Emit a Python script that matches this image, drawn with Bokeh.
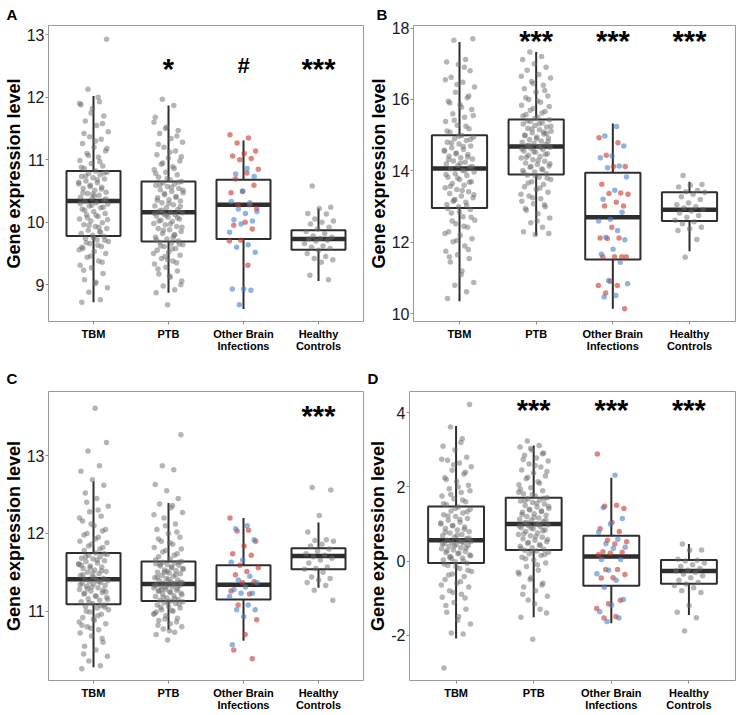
import numpy as np
from bokeh.plotting import figure
from bokeh.layouts import column, row
from bokeh.models import Range1d, FixedTicker
from bokeh.core.properties import value
from bokeh.embed import file_html
from bokeh.resources import INLINE

FONT = "Liberation Sans"

categories = ["TBM", "PTB", "Other Brain\nInfections", "Healthy\nControls"]

# ---------------- Panel A ----------------
a_whisk_lo = [8.72, 8.87, 8.61, 9.06]
a_q1 = [9.78, 9.69, 9.73, 9.56]
a_med = [10.34, 10.16, 10.28, 9.73]
a_q3 = [10.82, 10.65, 10.68, 9.87]
a_whisk_hi = [12.02, 11.87, 11.31, 10.22]
a_ticks = [9, 10, 11, 12, 13]
a_tbm = [8.72, 8.76, 8.88, 8.95, 9.04, 9.08, 9.18, 9.27, 9.31, 9.38, 9.44, 9.5, 9.53, 9.58, 9.61, 9.66, 9.69, 9.72, 9.74, 9.77,
         9.79, 9.82, 9.85, 9.87, 9.9, 9.93, 9.96, 9.99, 10.02, 10.05, 10.09, 10.12, 10.14, 10.17, 10.21, 10.23, 10.26, 10.29, 10.31, 10.33,
         10.35, 10.38, 10.4, 10.43, 10.46, 10.48, 10.51, 10.54, 10.56, 10.59, 10.61, 10.63, 10.66, 10.69, 10.71, 10.73, 10.76, 10.78, 10.8, 10.82,
         10.86, 10.9, 10.94, 10.99, 11.04, 11.1, 11.14, 11.2, 11.26, 11.33, 11.37, 11.45, 11.55, 11.62, 11.7, 11.82, 11.88, 11.93, 12.13, 12.93,
         9.02, 9.23, 9.36, 9.46, 9.56, 9.63, 9.67, 9.71, 9.75, 9.6, 9.84, 9.95, 10.04, 10.11, 10.19, 10.24, 10.27, 10.3, 9.92, 10.07,
         10.37, 10.42, 10.47, 10.53, 10.57, 10.64, 10.68, 10.74, 10.79, 10.45, 10.88, 10.97, 11.07, 11.18, 11.3, 11.42, 11.58, 11.75, 11.9, 12.0]
a_ptb = [8.68, 8.87, 8.92, 8.98, 9.06, 9.12, 9.17, 9.22, 9.28, 9.33, 9.38, 9.42, 9.47, 9.52, 9.55, 9.58, 9.61, 9.64, 9.66, 9.68,
         9.7, 9.73, 9.76, 9.79, 9.82, 9.85, 9.88, 9.9, 9.93, 9.96, 9.98, 10.01, 10.03, 10.05, 10.08, 10.1, 10.12, 10.13, 10.15, 10.16,
         10.18, 10.2, 10.23, 10.26, 10.28, 10.31, 10.34, 10.36, 10.39, 10.41, 10.44, 10.47, 10.49, 10.52, 10.54, 10.57, 10.59, 10.61, 10.63, 10.65,
         10.68, 10.72, 10.76, 10.8, 10.84, 10.89, 10.93, 10.98, 11.03, 11.08, 11.14, 11.2, 11.28, 11.34, 11.42, 11.47, 11.52, 11.68, 11.87, 11.97,
         9.0, 9.14, 9.25, 9.35, 9.45, 9.5, 9.57, 9.62, 9.65, 9.4, 9.72, 9.8, 9.87, 9.92, 9.97, 10.02, 10.07, 10.11, 10.14, 9.75,
         10.19, 10.25, 10.3, 10.35, 10.4, 10.46, 10.51, 10.56, 10.6, 10.64, 10.7, 10.78, 10.86, 10.95, 11.05, 11.12, 11.25, 11.38, 11.5, 11.6]
a_other_red = [11.40, 11.35, 11.27, 11.14, 11.10, 11.06, 11.02, 11.00, 10.85, 10.79, 10.69, 10.59, 10.49, 10.47, 10.28, 10.28,
               10.22, 10.00, 9.95, 9.89, 9.71, 9.70, 9.31]
a_other_blue = [10.86, 10.77, 10.73, 10.50, 10.33, 10.31, 10.21, 10.17, 10.14, 10.04, 10.02, 9.97, 9.84, 9.64, 9.60, 9.52,
                8.93, 8.93, 8.91, 8.68]
a_hc = [10.58, 10.24, 10.22, 10.14, 10.13, 10.05, 10.02, 10.0, 9.97, 9.92, 9.89, 9.85, 9.82, 9.78, 9.76, 9.74, 9.73, 9.71,
        9.7, 9.66, 9.62, 9.6, 9.58, 9.55, 9.5, 9.45, 9.42, 9.4, 9.36, 9.15, 9.08]
a_sig_cat = [2, 3, 4]
a_sig_text = ["*", "#", "***"]

# ---------------- Panel B ----------------
b_whisk_lo = [10.35, 12.19, 10.14, 11.75]
b_q1 = [12.96, 13.90, 11.52, 12.60]
b_med = [14.07, 14.68, 12.70, 12.91]
b_q3 = [15.00, 15.44, 13.95, 13.40]
b_whisk_hi = [17.61, 17.33, 15.33, 13.70]
b_ticks = [10, 12, 14, 16, 18]
b_tbm = [10.43, 10.62, 10.8, 10.88, 11.2, 11.45, 11.55, 11.65, 11.75, 11.9, 12.02, 12.1, 12.2, 12.3, 12.42, 12.52, 12.62, 12.72, 12.82, 12.92,
         13.0, 13.06, 13.12, 13.18, 13.25, 13.3, 13.37, 13.42, 13.48, 13.53, 13.6, 13.65, 13.7, 13.76, 13.82, 13.87, 13.92, 13.97, 14.02, 14.06,
         14.1, 14.15, 14.19, 14.24, 14.28, 14.33, 14.37, 14.41, 14.46, 14.5, 14.55, 14.6, 14.65, 14.7, 14.75, 14.8, 14.85, 14.9, 14.95, 14.99,
         15.08, 15.18, 15.28, 15.38, 15.5, 15.6, 15.72, 15.85, 15.95, 16.05, 16.2, 16.35, 16.48, 16.62, 16.8, 16.98, 17.05, 17.12, 17.66, 17.7,
         11.1, 11.6, 11.8, 12.05, 12.25, 12.45, 12.6, 12.7, 12.85, 12.95, 13.03, 13.2, 13.33, 13.45, 13.57, 13.68, 13.8, 13.9, 14.0, 13.15,
         14.12, 14.22, 14.31, 14.39, 14.48, 14.58, 14.68, 14.78, 14.88, 14.97, 15.12, 15.25, 15.42, 15.55, 15.78, 15.9, 16.1, 16.42, 16.55, 16.9]
b_ptb = [12.22, 12.3, 12.42, 12.55, 12.68, 12.8, 12.9, 13.0, 13.08, 13.15, 13.22, 13.3, 13.4, 13.48, 13.56, 13.62, 13.7, 13.76, 13.82, 13.88,
         13.92, 13.97, 14.01, 14.05, 14.1, 14.14, 14.18, 14.22, 14.27, 14.31, 14.36, 14.4, 14.44, 14.48, 14.52, 14.56, 14.6, 14.63, 14.66, 14.68,
         14.71, 14.74, 14.77, 14.8, 14.84, 14.88, 14.92, 14.95, 14.99, 15.03, 15.07, 15.11, 15.15, 15.19, 15.23, 15.27, 15.31, 15.35, 15.39, 15.43,
         15.5, 15.58, 15.66, 15.75, 15.84, 15.92, 16.0, 16.1, 16.2, 16.3, 16.4, 16.5, 16.6, 16.7, 16.82, 16.9, 17.0, 17.12, 17.2, 17.33,
         12.25, 12.6, 12.95, 13.05, 13.25, 13.35, 13.52, 13.66, 13.8, 13.86, 13.95, 14.03, 14.12, 14.2, 14.29, 14.38, 14.46, 14.54, 14.61, 14.66,
         14.72, 14.82, 14.9, 15.0, 15.09, 15.17, 15.25, 15.33, 15.4, 15.05, 15.47, 15.54, 15.62, 15.7, 15.8, 15.96, 16.05, 16.25, 16.45, 16.65]
b_other_red = [14.93, 14.79, 14.44, 14.12, 14.12, 13.63, 13.38, 13.37, 13.35, 13.12, 13.02, 13.02, 12.42, 12.12, 12.12, 12.11,
               11.60, 11.60, 11.60, 11.60, 10.91, 10.79, 10.79, 10.58, 10.14]
b_other_blue = [15.24, 14.98, 14.70, 14.42, 14.37, 14.14, 14.09, 13.83, 13.46, 13.21, 12.84, 12.65, 12.60, 12.33, 12.14, 12.07,
                11.81, 11.67, 11.44, 10.93, 10.84, 10.51, 10.47]
b_hc = [13.87, 13.62, 13.6, 13.55, 13.45, 13.42, 13.4, 13.35, 13.28, 13.2, 13.1, 13.05, 13.0, 12.96, 12.92, 12.88, 12.82, 12.75,
        12.7, 12.62, 12.58, 12.52, 12.42, 12.38, 12.33, 12.08, 11.58]
b_sig_cat = [2, 3, 4]
b_sig_text = ["***", "***", "***"]

# ---------------- Panel C ----------------
c_whisk_lo = [10.28, 10.76, 10.62, 11.30]
c_q1 = [11.09, 11.13, 11.15, 11.54]
c_med = [11.41, 11.35, 11.34, 11.71]
c_q3 = [11.75, 11.64, 11.59, 11.81]
c_whisk_hi = [12.67, 12.39, 12.20, 12.14]
c_ticks = [11, 12, 13]
c_tbm = [10.26, 10.3, 10.36, 10.42, 10.5, 10.55, 10.6, 10.68, 10.72, 10.76, 10.8, 10.84, 10.88, 10.92, 10.96, 10.99, 11.02, 11.04, 11.06, 11.08,
         11.1, 11.12, 11.14, 11.16, 11.18, 11.2, 11.22, 11.24, 11.26, 11.28, 11.3, 11.32, 11.33, 11.35, 11.36, 11.37, 11.38, 11.39, 11.4, 11.41,
         11.42, 11.44, 11.46, 11.48, 11.5, 11.51, 11.53, 11.55, 11.57, 11.58, 11.6, 11.62, 11.64, 11.65, 11.67, 11.68, 11.7, 11.72, 11.73, 11.75,
         11.78, 11.82, 11.86, 11.9, 11.95, 12.0, 12.05, 12.1, 12.16, 12.22, 12.28, 12.35, 12.45, 12.52, 12.62, 12.69, 12.8, 12.87, 13.06, 13.17, 13.61,
         10.45, 10.65, 10.78, 10.86, 10.94, 11.0, 11.05, 10.9, 10.82, 11.07, 11.11, 11.15, 11.19, 11.23, 11.27, 11.31, 11.34, 11.38, 11.29, 11.25,
         11.43, 11.47, 11.52, 11.56, 11.61, 11.66, 11.7, 11.74, 11.49, 11.59, 11.8, 11.84, 11.88, 11.93, 11.98, 12.03, 12.12, 12.2, 12.3, 12.4]
c_ptb = [10.63, 10.7, 10.73, 10.77, 10.8, 10.84, 10.88, 10.91, 10.94, 10.97, 11.0, 11.02, 11.04, 11.06, 11.08, 11.1, 11.11, 11.12, 11.13, 11.14,
         11.15, 11.17, 11.19, 11.2, 11.22, 11.23, 11.25, 11.26, 11.27, 11.28, 11.3, 11.31, 11.32, 11.33, 11.34, 11.34, 11.35, 11.36, 11.37, 11.38,
         11.39, 11.4, 11.42, 11.43, 11.45, 11.46, 11.48, 11.49, 11.5, 11.52, 11.53, 11.55, 11.56, 11.58, 11.59, 11.6, 11.61, 11.62, 11.63, 11.64,
         11.67, 11.7, 11.74, 11.78, 11.82, 11.86, 11.9, 11.95, 12.0, 12.05, 12.12, 12.2, 12.27, 12.33, 12.38, 12.45, 12.55, 12.63, 12.82, 12.87, 13.27,
         10.75, 10.82, 10.86, 10.9, 10.96, 11.01, 11.05, 11.09, 11.12, 10.99, 11.16, 11.18, 11.21, 11.24, 11.26, 11.29, 11.31, 11.33, 11.35, 11.28,
         11.37, 11.41, 11.44, 11.47, 11.5, 11.54, 11.57, 11.6, 11.63, 11.51, 11.66, 11.72, 11.76, 11.8, 11.88, 11.93, 12.02, 12.1, 12.24, 12.36]
c_other_red = [12.20, 12.04, 12.03, 11.90, 11.84, 11.74, 11.72, 11.59, 11.56, 11.51, 11.47, 11.38, 11.37, 11.26, 11.22, 11.08,
               10.89, 10.70, 10.50, 10.39]
c_other_blue = [12.10, 12.06, 11.92, 11.66, 11.63, 11.45, 11.40, 11.37, 11.31, 11.28, 11.23, 11.23, 11.19, 11.08, 11.02, 11.02,
                10.93, 10.57]
c_hc = [12.59, 12.56, 12.23, 12.02, 11.92, 11.91, 11.9, 11.86, 11.84, 11.8, 11.77, 11.74, 11.72, 11.7, 11.68, 11.66, 11.62,
        11.57, 11.55, 11.54, 11.5, 11.44, 11.42, 11.4, 11.37, 11.33, 11.27, 11.14]
c_sig_cat = [4]
c_sig_text = ["***"]

# ---------------- Panel D ----------------
d_whisk_lo = [-2.09, -1.52, -1.68, -1.46]
d_q1 = [-0.05, 0.30, -0.67, -0.61]
d_med = [0.56, 1.00, 0.12, -0.27]
d_q3 = [1.47, 1.71, 0.68, 0.03]
d_whisk_hi = [3.65, 3.12, 2.25, 0.46]
d_ticks = [-2, 0, 2, 4]
d_tbm = [-2.89, -1.97, -1.94, -1.7, -1.5, -1.38, -1.3, -1.12, -0.98, -0.9, -0.8, -0.7, -0.6, -0.5, -0.42, -0.35, -0.28, -0.2, -0.12, -0.06,
         -0.02, 0.03, 0.08, 0.12, 0.16, 0.2, 0.23, 0.26, 0.3, 0.33, 0.36, 0.39, 0.42, 0.44, 0.47, 0.49, 0.51, 0.53, 0.55, 0.56,
         0.6, 0.64, 0.68, 0.72, 0.76, 0.8, 0.84, 0.88, 0.92, 0.96, 1.0, 1.05, 1.1, 1.15, 1.2, 1.25, 1.3, 1.35, 1.4, 1.46,
         1.52, 1.6, 1.68, 1.76, 1.85, 1.95, 2.05, 2.15, 2.25, 2.35, 2.45, 2.55, 2.65, 2.72, 2.8, 3.0, 3.1, 3.3, 3.62, 4.23,
         -1.6, -1.2, -1.0, -0.85, -0.65, -0.55, -0.38, -0.25, -0.15, -0.08, 0.0, 0.06, 0.14, 0.22, 0.28, 0.35, 0.41, 0.46, 0.52, 0.1,
         0.62, 0.7, 0.78, 0.86, 0.95, 1.03, 1.12, 1.22, 1.33, 1.42, 1.55, 1.65, 1.8, 1.9, 2.0, 2.2, 2.4, 2.6, 2.75, 3.2]
d_ptb = [-2.11, -1.52, -1.3, -1.05, -0.95, -0.8, -0.7, -0.6, -0.45, -0.35, -0.25, -0.15, -0.05, 0.03, 0.1, 0.15, 0.2, 0.24, 0.27, 0.29,
         0.32, 0.36, 0.4, 0.44, 0.48, 0.52, 0.56, 0.6, 0.64, 0.68, 0.72, 0.76, 0.8, 0.84, 0.87, 0.9, 0.93, 0.95, 0.98, 1.0,
         1.03, 1.06, 1.1, 1.13, 1.16, 1.2, 1.24, 1.28, 1.32, 1.35, 1.38, 1.42, 1.46, 1.5, 1.54, 1.58, 1.62, 1.65, 1.68, 1.71,
         1.76, 1.82, 1.9, 1.98, 2.06, 2.14, 2.22, 2.3, 2.38, 2.46, 2.54, 2.62, 2.7, 2.78, 2.86, 2.92, 3.0, 3.08, 3.12, 3.24,
         -1.4, -1.15, -0.9, -0.65, -0.5, -0.3, -0.1, 0.06, 0.18, 0.26, 0.34, 0.42, 0.5, 0.58, 0.66, 0.74, 0.82, 0.89, 0.94, 0.99,
         1.04, 1.11, 1.18, 1.26, 1.34, 1.4, 1.48, 1.56, 1.63, 1.69, 1.8, 1.94, 2.1, 2.26, 2.42, 2.58, 2.74, 2.9, 3.04, 1.86]
d_other_red = [2.89, 1.51, 1.48, 1.42, 1.04, 0.87, 0.80, 0.56, 0.52, 0.46, 0.25, 0.24, 0.21, 0.17, -0.23, -0.23, -0.36,
               -0.45, -0.46, -1.06, -1.15, -1.28, -1.50, -1.54]
d_other_blue = [2.32, 1.44, 1.15, 1.00, 0.78, 0.59, 0.47, 0.37, 0.34, 0.04, 0.04, -0.25, -0.34, -0.52, -0.71, -1.04, -1.19,
                -1.37, -1.54, -1.63]
d_hc = [0.46, 0.3, 0.29, 0.05, 0.02, 0.0, -0.05, -0.1, -0.15, -0.2, -0.25, -0.27, -0.3, -0.35, -0.4, -0.45, -0.52, -0.58,
        -0.62, -0.66, -0.72, -0.8, -0.85, -1.2, -1.38, -1.53, -1.89]
d_sig_cat = [2, 3, 4]
d_sig_text = ["***", "***", "***"]

GRAY = "#6b6b6b"
RED = "#c8372d"
BLUE = "#4482cb"
BOX = "#2e2e2e"
JIT = 0.2
BOXW = 0.72
PT = 5.5


def jitter(n, phase):
    k = np.arange(n)
    return ((k * 0.6180339887 + phase) % 1.0 - 0.5) * 2 * JIT


def make_panel(letter, width, height, b_top, b_bottom, title_standoff, y_lo, y_hi, ticks,
               wlo, q1, med, q3, whi, tbm, ptb, o_red, o_blue, hc,
               sig_cat, sig_text, sig_y, title_offset):
    pos = np.arange(1, len(categories) + 1)
    p = figure(width=width, height=height, output_backend="svg", toolbar_location=None,
               x_range=Range1d(0.4, 4.6), y_range=Range1d(y_lo, y_hi),
               min_border_left=10, min_border_right=2,
               min_border_top=b_top, min_border_bottom=b_bottom)
    p.background_fill_color = "white"
    p.border_fill_color = "white"
    p.outline_line_color = "#9a9a9a"
    p.outline_line_width = 1
    p.xgrid.visible = False
    p.ygrid.visible = False

    # panel letter
    p.title.text = letter
    p.title.align = "left"
    p.title.offset = title_offset
    p.title.standoff = title_standoff
    p.title.text_font = FONT
    p.title.text_font_size = "15px"
    p.title.text_font_style = "bold"
    p.title.text_color = "black"

    # axes
    p.xaxis.ticker = FixedTicker(ticks=list(pos))
    p.xaxis.major_label_overrides = {int(k): lab for k, lab in zip(pos, categories)}
    p.xaxis.major_label_text_font = FONT
    p.xaxis.major_label_text_font_size = "11px"
    p.xaxis.major_label_text_font_style = "bold"
    p.xaxis.major_label_text_color = "black"
    p.xaxis.major_label_text_line_height = 1.0
    p.xaxis.major_label_standoff = 3
    p.yaxis.ticker = FixedTicker(ticks=ticks)
    p.yaxis.major_label_overrides = {t: str(t) for t in ticks}
    p.yaxis.major_label_text_font = FONT
    p.yaxis.major_label_text_font_size = "16px"
    p.yaxis.major_label_text_color = "#1a1a1a"
    p.yaxis.major_label_standoff = 1
    p.yaxis.axis_label = "Gene expression level"
    p.yaxis.axis_label_text_font = FONT
    p.yaxis.axis_label_text_font_size = "18px"
    p.yaxis.axis_label_text_font_style = "bold"
    p.yaxis.axis_label_text_color = "black"
    p.yaxis.axis_label_standoff = 0
    for ax in (p.xaxis, p.yaxis):
        ax.axis_line_color = None
        ax.major_tick_line_color = "#8a8a8a"
        ax.major_tick_out = 3
        ax.major_tick_in = 0
        ax.minor_tick_line_color = None

    # boxplots
    p.segment(x0=pos, y0=q3, x1=pos, y1=whi, line_color=BOX, line_width=2)
    p.segment(x0=pos, y0=wlo, x1=pos, y1=q1, line_color=BOX, line_width=2)
    p.vbar(x=pos, width=BOXW, top=q3, bottom=q1, fill_alpha=0,
           line_color=BOX, line_width=2)
    p.segment(x0=pos - BOXW / 2, y0=med, x1=pos + BOXW / 2, y1=med,
              line_color=BOX, line_width=4.5)

    # jittered points
    gx, gy = [], []
    for k, vals, ph in ((0, tbm, 0.11), (1, ptb, 0.47), (3, hc, 0.29)):
        gx.extend(pos[k] + jitter(len(vals), ph))
        gy.extend(vals)
    p.scatter(gx, gy, size=PT, fill_color=GRAY, fill_alpha=0.5, line_color=None)
    p.scatter(pos[2] + jitter(len(o_red), 0.05), o_red, size=PT,
              fill_color=RED, fill_alpha=0.6, line_color=None)
    p.scatter(pos[2] + jitter(len(o_blue), 0.62), o_blue, size=PT,
              fill_color=BLUE, fill_alpha=0.6, line_color=None)

    # significance marks
    stars_x = [c for c, t in zip(sig_cat, sig_text) if t != "#"]
    stars_t = [t for t in sig_text if t != "#"]
    hash_x = [c for c, t in zip(sig_cat, sig_text) if t == "#"]
    if stars_x:
        p.text(x=stars_x, y=[sig_y] * len(stars_x), text=stars_t,
               text_align="center", text_baseline="alphabetic", y_offset=2,
               text_font=value(FONT), text_font_size="29px",
               text_font_style="bold", text_color="black")
    if hash_x:
        p.text(x=hash_x, y=[sig_y] * len(hash_x), text=["#"],
               text_align="center", text_baseline="alphabetic", y_offset=-1,
               text_font=value(FONT), text_font_size="22px",
               text_font_style="bold", text_color="black")
    return p


pA = make_panel("A", 365, 357, 24, 36, 6, 8.41, 13.15, a_ticks,
                a_whisk_lo, a_q1, a_med, a_q3, a_whisk_hi,
                a_tbm, a_ptb, a_other_red, a_other_blue, a_hc,
                a_sig_cat, a_sig_text, 12.49, -42)
pB = make_panel("B", 372, 357, 24, 36, 6, 9.785, 18.07, b_ticks,
                b_whisk_lo, b_q1, b_med, b_q3, b_whisk_hi,
                b_tbm, b_ptb, b_other_red, b_other_blue, b_hc,
                b_sig_cat, b_sig_text, 17.68, -37)
pC = make_panel("C", 365, 356, 34, 29, 9, 10.109, 13.825, c_ticks,
                c_whisk_lo, c_q1, c_med, c_q3, c_whisk_hi,
                c_tbm, c_ptb, c_other_red, c_other_blue, c_hc,
                c_sig_cat, c_sig_text, 13.53, -42)
pD = make_panel("D", 372, 356, 34, 29, 9, -3.226, 4.579, d_ticks,
                d_whisk_lo, d_q1, d_med, d_q3, d_whisk_hi,
                d_tbm, d_ptb, d_other_red, d_other_blue, d_hc,
                d_sig_cat, d_sig_text, 4.13, -42)

layout = column(row(pA, pB), row(pC, pD))
open("out.html", "w").write(file_html(layout, INLINE))
